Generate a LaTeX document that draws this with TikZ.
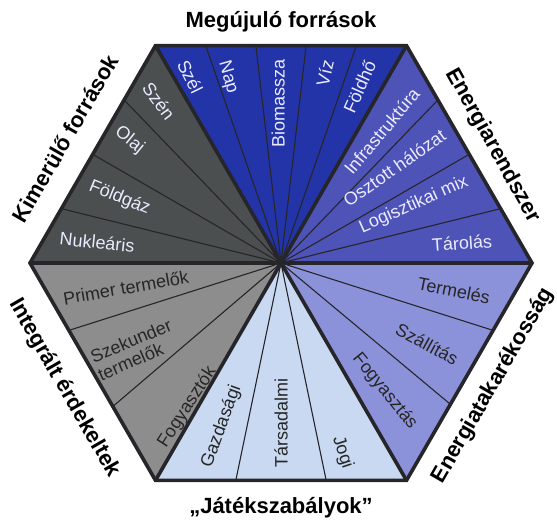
\documentclass[tikz,border=0pt]{standalone}
\usepackage{fontspec}
\setmainfont{Liberation Sans}
\usepackage{tikz}
\usetikzlibrary{calc}
\definecolor{megujulo}{RGB}{34,52,168}
\definecolor{rendszer}{RGB}{78,83,183}
\definecolor{takarekos}{RGB}{140,146,218}
\definecolor{jatek}{RGB}{201,217,241}
\definecolor{erdekelt}{RGB}{141,141,141}
\definecolor{kimerulo}{RGB}{75,79,79}
\definecolor{rimgray}{RGB}{38,38,42}

\begin{document}
\begin{tikzpicture}[
    x=1pt, y=1pt,
    heading/.style={font=\fontsize{22}{25}\selectfont\bfseries, text=black},
    lightlabel/.style={font=\fontsize{18}{20}\selectfont, text=white!92!blue, inner sep=0pt},
    darklabel/.style={font=\fontsize{18}{19}\selectfont, text=black!85, inner sep=0pt},
    divider/.style={line width=1.1pt, draw=rimgray},
    spoke/.style={line width=3.6pt, draw=rimgray, line join=miter},
]
\useasboundingbox (-281,-257) rectangle (276,263);

% Corners
\coordinate (o) at (0,0);
\coordinate (c0) at (0:251);
\coordinate (c60) at (60:251);
\coordinate (c120) at (120:251);
\coordinate (c180) at (180:251);
\coordinate (c240) at (240:251);
\coordinate (c300) at (300:251);

% Sectors
\fill[megujulo] (o) -- (c60) -- (c120) -- cycle;
\fill[rendszer] (o) -- (c0) -- (c60) -- cycle;
\fill[takarekos] (o) -- (c300) -- (c0) -- cycle;
\fill[jatek] (o) -- (c240) -- (c300) -- cycle;
\fill[erdekelt] (o) -- (c180) -- (c240) -- cycle;
\fill[kimerulo] (o) -- (c120) -- (c180) -- cycle;

% Dividers
\foreach \k in {0.2,0.4,0.6,0.8} \draw[divider] (o) -- ($(c120)!\k!(c60)$);
\foreach \k in {0.25,0.5,0.75} \draw[divider] (o) -- ($(c60)!\k!(c0)$);
\foreach \k in {0.25,0.5,0.75} \draw[divider] (o) -- ($(c120)!\k!(c180)$);
\foreach \k in {0.31,0.65} \draw[divider] (o) -- ($(c0)!\k!(c300)$);
\foreach \k in {0.32,0.68} \draw[divider] (o) -- ($(c240)!\k!(c300)$);
\foreach \k in {0.31,0.66} \draw[divider] (o) -- ($(c180)!\k!(c240)$);

% Spokes and rim
\draw[spoke] (o) -- (c0) (o) -- (c60) (o) -- (c120) (o) -- (c180) (o) -- (c240) (o) -- (c300);
\draw[spoke] (c0) -- (c60) -- (c120) -- (c180) -- (c240) -- (c300) -- cycle;

% Megujulo labels
\node[lightlabel, rotate=-64] (szel) at (116:207) {Szél};
\node[lightlabel, rotate=-74] (nap) at (106:193) {Nap};
\node[lightlabel, rotate=90] (biomassza) at (91:160) {Biomassza};
\node[lightlabel, rotate=77] (viz) at (77:195) {Víz};
\node[lightlabel, rotate=66] (foldho) at (66:193) {Földhő};

% Energiarendszer labels
\node[lightlabel, rotate=50] (infra) at (52.6:166) {Infrastruktúra};
\node[lightlabel, rotate=35] (halozat) at (40:148) {Osztott hálózat};
\node[lightlabel, rotate=24] (mix) at (23.6:145) {Logisztikai mix};
\node[lightlabel, rotate=4] (tarolas) at (6.3:182) {Tárolás};

% Energiatakarekossag labels
\node[darklabel, rotate=-11] (termeles) at (-9:175) {Termelés};
\node[darklabel, rotate=-29] (szallitas) at (-29:167) {Szállítás};
\node[darklabel, rotate=-51] (fogyasztas) at (-51:165) {Fogyasztás};

% Jatekszabalyok labels
\node[darklabel, rotate=70] (gazdasagi) at (-110:174) {Gazdasági};
\node[darklabel, rotate=90] (tarsadalmi) at (-90:160) {Társadalmi};
\node[darklabel, rotate=-72] (jogi) at (-72:199) {Jogi};

% Erdekeltek labels
\node[darklabel, rotate=10] (primer) at (-171:157) {Primer termelők};
\node[darklabel, rotate=23, align=left] (szekunder) at (-149.4:170) {Szekunder\\termelők};
\node[darklabel, rotate=57] (fogyasztok) at (-123:172) {Fogyasztók};

% Kimerulo labels
\node[lightlabel, rotate=-53] (szen) at (127:203) {Szén};
\node[lightlabel, rotate=-39] (olaj) at (141:195) {Olaj};
\node[lightlabel, rotate=-22] (foldgaz) at (158:174) {Földgáz};
\node[lightlabel, rotate=-6] (nuklearis) at (173.5:185) {Nukleáris};

% Headings
\node[heading] (hmegujulo) at (0,241) {Megújuló források};
\node[heading, rotate=-61] (hrendszer) at (29:242) {Energiarendszer};
\node[heading, rotate=60] (htakarekos) at (-30:245) {Energiatakarékosság};
\node[heading] (hjatek) at (0,-245) {„Játékszabályok”};
\node[heading, rotate=-60] (herdekelt) at (-150:250) {Integrált érdekeltek};
\node[heading, rotate=60] (hkimerulo) at (150:249) {Kimerülő források};

\end{tikzpicture}
\end{document}
